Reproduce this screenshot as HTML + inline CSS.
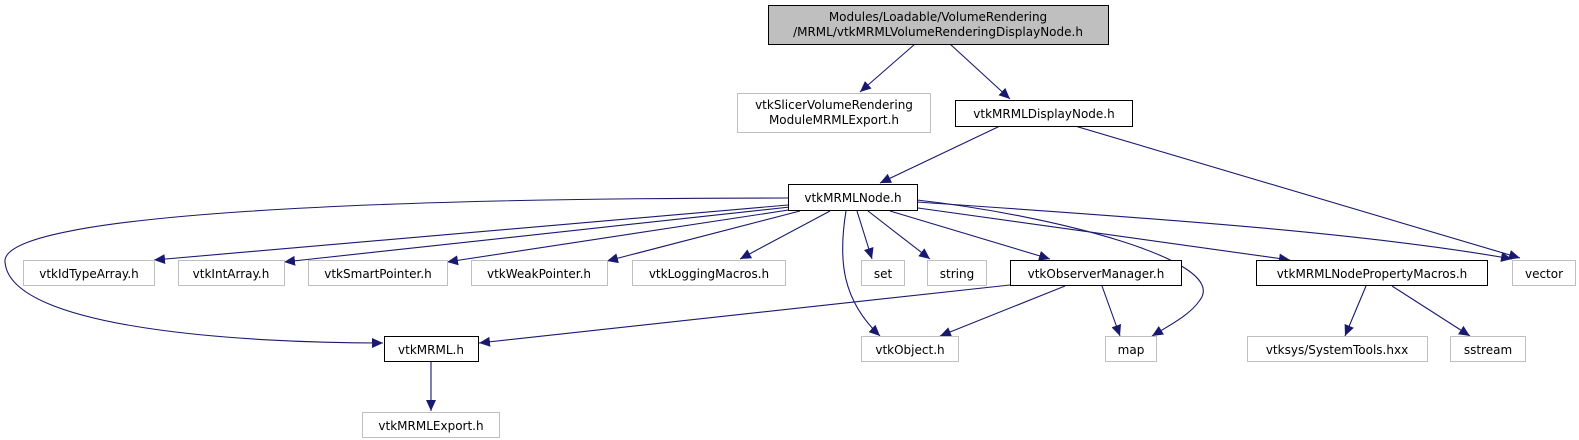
<!DOCTYPE html>
<html><head><meta charset="utf-8"><style>
html,body{margin:0;padding:0;background:#fff;width:1579px;height:440px;overflow:hidden}
text{font-family:"DejaVu Sans","Liberation Sans",sans-serif;font-size:12px;text-anchor:middle}
</style></head><body>
<svg width="1579" height="440" viewBox="0 0 1579 440" xmlns="http://www.w3.org/2000/svg">
<defs><marker id="a" markerWidth="12" markerHeight="10" refX="11" refY="5" orient="auto" markerUnits="userSpaceOnUse"><path d="M0,0 L11,5 L0,10 z" fill="#191970"/></marker></defs>
<g fill="none" stroke="#191970" stroke-width="1.1" marker-end="url(#a)">
<path d="M915,44 L860,92"/>
<path d="M950,44 L1010,99"/>
<path d="M1000,126 L880,183"/>
<path d="M1075,126 L1520,258"/>
<path d="M788,198 C400,198 0,212 5,262 C10,330 250,343 383,343"/>
<path d="M788,205 L154,260"/>
<path d="M790,207 L284,262"/>
<path d="M795,209 L447,262"/>
<path d="M800,211 L607,261"/>
<path d="M830,211 L740,259"/>
<path d="M846,211 C838,260 842,300 880,336"/>
<path d="M857,211 L872,259"/>
<path d="M868,211 L930,259"/>
<path d="M890,211 L1050,259"/>
<path d="M918,208 L1290,260"/>
<path d="M917,200 C1050,215 1230,260 1200,300 C1190,315 1170,325 1152,336"/>
<path d="M917,202 C1100,215 1350,230 1512,259"/>
<path d="M1010,285 L479,343"/>
<path d="M1065,286 L940,336"/>
<path d="M1102,286 L1120,336"/>
<path d="M1366,286 L1345,336"/>
<path d="M1392,286 L1470,336"/>
<path d="M431,362 L431,411"/>
</g>
<rect x="768.5" y="5.5" width="340" height="39" fill="#bfbfbf" stroke="#000"/>
<text x="938" y="21">Modules/Loadable/VolumeRendering</text>
<text x="938" y="36">/MRML/vtkMRMLVolumeRenderingDisplayNode.h</text>
<g fill="#fff" stroke="#bfbfbf">
<rect x="737.5" y="93.5" width="193" height="39"/>
<rect x="23.5" y="260.5" width="131" height="25"/>
<rect x="178.5" y="260.5" width="106" height="25"/>
<rect x="308.5" y="260.5" width="139" height="25"/>
<rect x="471.5" y="260.5" width="136" height="25"/>
<rect x="632.5" y="260.5" width="153" height="25"/>
<rect x="861.5" y="260.5" width="43" height="25"/>
<rect x="927.5" y="260.5" width="59" height="25"/>
<rect x="1512.5" y="260.5" width="63" height="25"/>
<rect x="362.5" y="412.5" width="137" height="25"/>
<rect x="861.5" y="336.5" width="97" height="25"/>
<rect x="1105.5" y="336.5" width="51" height="25"/>
<rect x="1247.5" y="336.5" width="180" height="25"/>
<rect x="1450.5" y="336.5" width="75" height="25"/>
</g>
<g fill="#fff" stroke="#000">
<rect x="955.5" y="100.5" width="177" height="26"/>
<rect x="788.5" y="184.5" width="129" height="26"/>
<rect x="1010.5" y="260.5" width="171" height="25"/>
<rect x="1256.5" y="260.5" width="231" height="25"/>
<rect x="384.5" y="336.5" width="94" height="25"/>
</g>
<text x="834" y="109">vtkSlicerVolumeRendering</text>
<text x="834" y="124">ModuleMRMLExport.h</text>
<text x="1044" y="118">vtkMRMLDisplayNode.h</text>
<text x="853" y="202">vtkMRMLNode.h</text>
<text x="89" y="278">vtkIdTypeArray.h</text>
<text x="231" y="278">vtkIntArray.h</text>
<text x="378" y="278">vtkSmartPointer.h</text>
<text x="539" y="278">vtkWeakPointer.h</text>
<text x="709" y="278">vtkLoggingMacros.h</text>
<text x="883" y="278">set</text>
<text x="957" y="278">string</text>
<text x="1096" y="278">vtkObserverManager.h</text>
<text x="1372" y="278">vtkMRMLNodePropertyMacros.h</text>
<text x="1544" y="278">vector</text>
<text x="431" y="354">vtkMRML.h</text>
<text x="910" y="354">vtkObject.h</text>
<text x="1131" y="354">map</text>
<text x="1337" y="354">vtksys/SystemTools.hxx</text>
<text x="1488" y="354">sstream</text>
<text x="431" y="430">vtkMRMLExport.h</text>
</svg>
</body></html>
